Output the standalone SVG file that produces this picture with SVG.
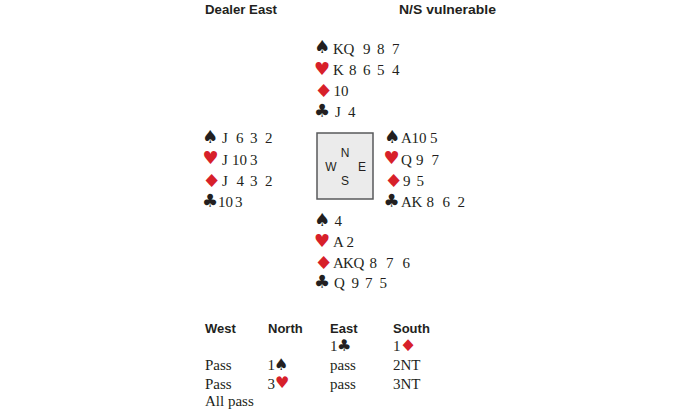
<svg xmlns="http://www.w3.org/2000/svg" width="700" height="413" viewBox="0 0 700 413">
<style>
  .hd { font-family: "Liberation Sans", Arial, sans-serif; font-weight: bold; font-size: 13px; fill: #231f20; }
  .c { font-family: "Liberation Serif", "Times New Roman", serif; font-size: 15px; fill: #231f20; }
  .sb { font-family: "DejaVu Sans", sans-serif; font-size: 18px; fill: #231f20; }
  .sr { font-family: "DejaVu Sans", sans-serif; font-size: 18px; fill: #d7202a; }
  .ab { font-family: "DejaVu Sans", sans-serif; font-size: 16px; fill: #231f20; }
  .ar { font-family: "DejaVu Sans", sans-serif; font-size: 16px; fill: #d7202a; }
  .cp { font-family: "Liberation Sans", Arial, sans-serif; font-size: 12px; fill: #231f20; text-anchor: middle; }
</style>
<rect width="700" height="413" fill="#ffffff"/>
<g id="header">
  <text class="hd" x="205" y="14" textLength="72" lengthAdjust="spacingAndGlyphs">Dealer East</text>
  <text class="hd" x="399" y="14" textLength="97" lengthAdjust="spacingAndGlyphs">N/S vulnerable</text>
</g>
<g id="north">
  <text class="sb" x="314" y="53">♠</text>
  <text class="sr" x="314" y="74.5">♥</text>
  <text class="sr" transform="translate(314,96.5) scale(1.2,1)">♦</text>
  <text class="sb" x="314" y="117">♣</text>
  <text class="c" x="333 343.5 363 377 392" y="54">KQ987</text>
  <text class="c" x="333 349 363 377 392" y="75">K8654</text>
  <text class="c" x="333.5" y="96">10</text>
  <text class="c" x="335 348" y="117">J4</text>
</g>
<g id="west">
  <text class="sb" x="202" y="142.5">♠</text>
  <text class="sr" x="202.5" y="164">♥</text>
  <text class="sr" transform="translate(202,186.5) scale(1.2,1)">♦</text>
  <text class="sb" x="202" y="207">♣</text>
  <text class="c" x="222 236 250 265" y="143">J632</text>
  <text class="c" x="222 232 239.5 250" y="164.5">J103</text>
  <text class="c" x="222 236.5 250 265" y="186">J432</text>
  <text class="c" x="218 225.5 235" y="207">103</text>
</g>
<g id="east">
  <text class="sb" x="384" y="142.5">♠</text>
  <text class="sr" x="383.5" y="164">♥</text>
  <text class="sr" transform="translate(384,186.5) scale(1.2,1)">♦</text>
  <text class="sb" x="383.5" y="207">♣</text>
  <text class="c" x="401 411.5 419 430" y="143">A105</text>
  <text class="c" x="401 416 431.5" y="164.5">Q97</text>
  <text class="c" x="403 416.5" y="186">95</text>
  <text class="c" x="401 411.5 426.5 442.5 457.5" y="207">AK862</text>
</g>
<g id="compass">
  <rect x="317" y="133" width="56" height="66" fill="#ebebeb" stroke="#58595b" stroke-width="1.5"/>
  <text class="cp" x="345" y="157">N</text>
  <text class="cp" x="331" y="171">W</text>
  <text class="cp" x="362" y="171">E</text>
  <text class="cp" x="345" y="185">S</text>
</g>
<g id="south">
  <text class="sb" x="314" y="225.5">♠</text>
  <text class="sr" x="314" y="246.5">♥</text>
  <text class="sr" transform="translate(314,268.5) scale(1.2,1)">♦</text>
  <text class="sb" x="314" y="288">♣</text>
  <text class="c" x="334.5" y="226">4</text>
  <text class="c" x="333 346.5" y="247">A2</text>
  <text class="c" x="333 343 353.5 369.5 386 402.5" y="268">AKQ876</text>
  <text class="c" x="334 351.5 365 379.5" y="288">Q975</text>
</g>
<g id="auction">
  <text class="hd" x="205" y="333">West</text>
  <text class="hd" x="268" y="333">North</text>
  <text class="hd" x="330" y="333">East</text>
  <text class="hd" x="393" y="333">South</text>
  <text class="c" x="330" y="351">1</text>
  <text class="ab" x="337" y="351">♣</text>
  <text class="c" x="393" y="351">1</text>
  <text class="ar" transform="translate(399.5,351) scale(1.2,1)">♦</text>
  <text class="c" x="205" y="370">Pass</text>
  <text class="c" x="267.5" y="370">1</text>
  <text class="ab" x="274" y="369.5">♠</text>
  <text class="c" x="330" y="370">pass</text>
  <text class="c" x="393" y="370">2NT</text>
  <text class="c" x="205" y="388.5">Pass</text>
  <text class="c" x="267.5" y="388.5">3</text>
  <text class="ar" x="275" y="388">♥</text>
  <text class="c" x="330" y="388.5">pass</text>
  <text class="c" x="393" y="388.5">3NT</text>
  <text class="c" x="205" y="406">All pass</text>
</g>
</svg>
